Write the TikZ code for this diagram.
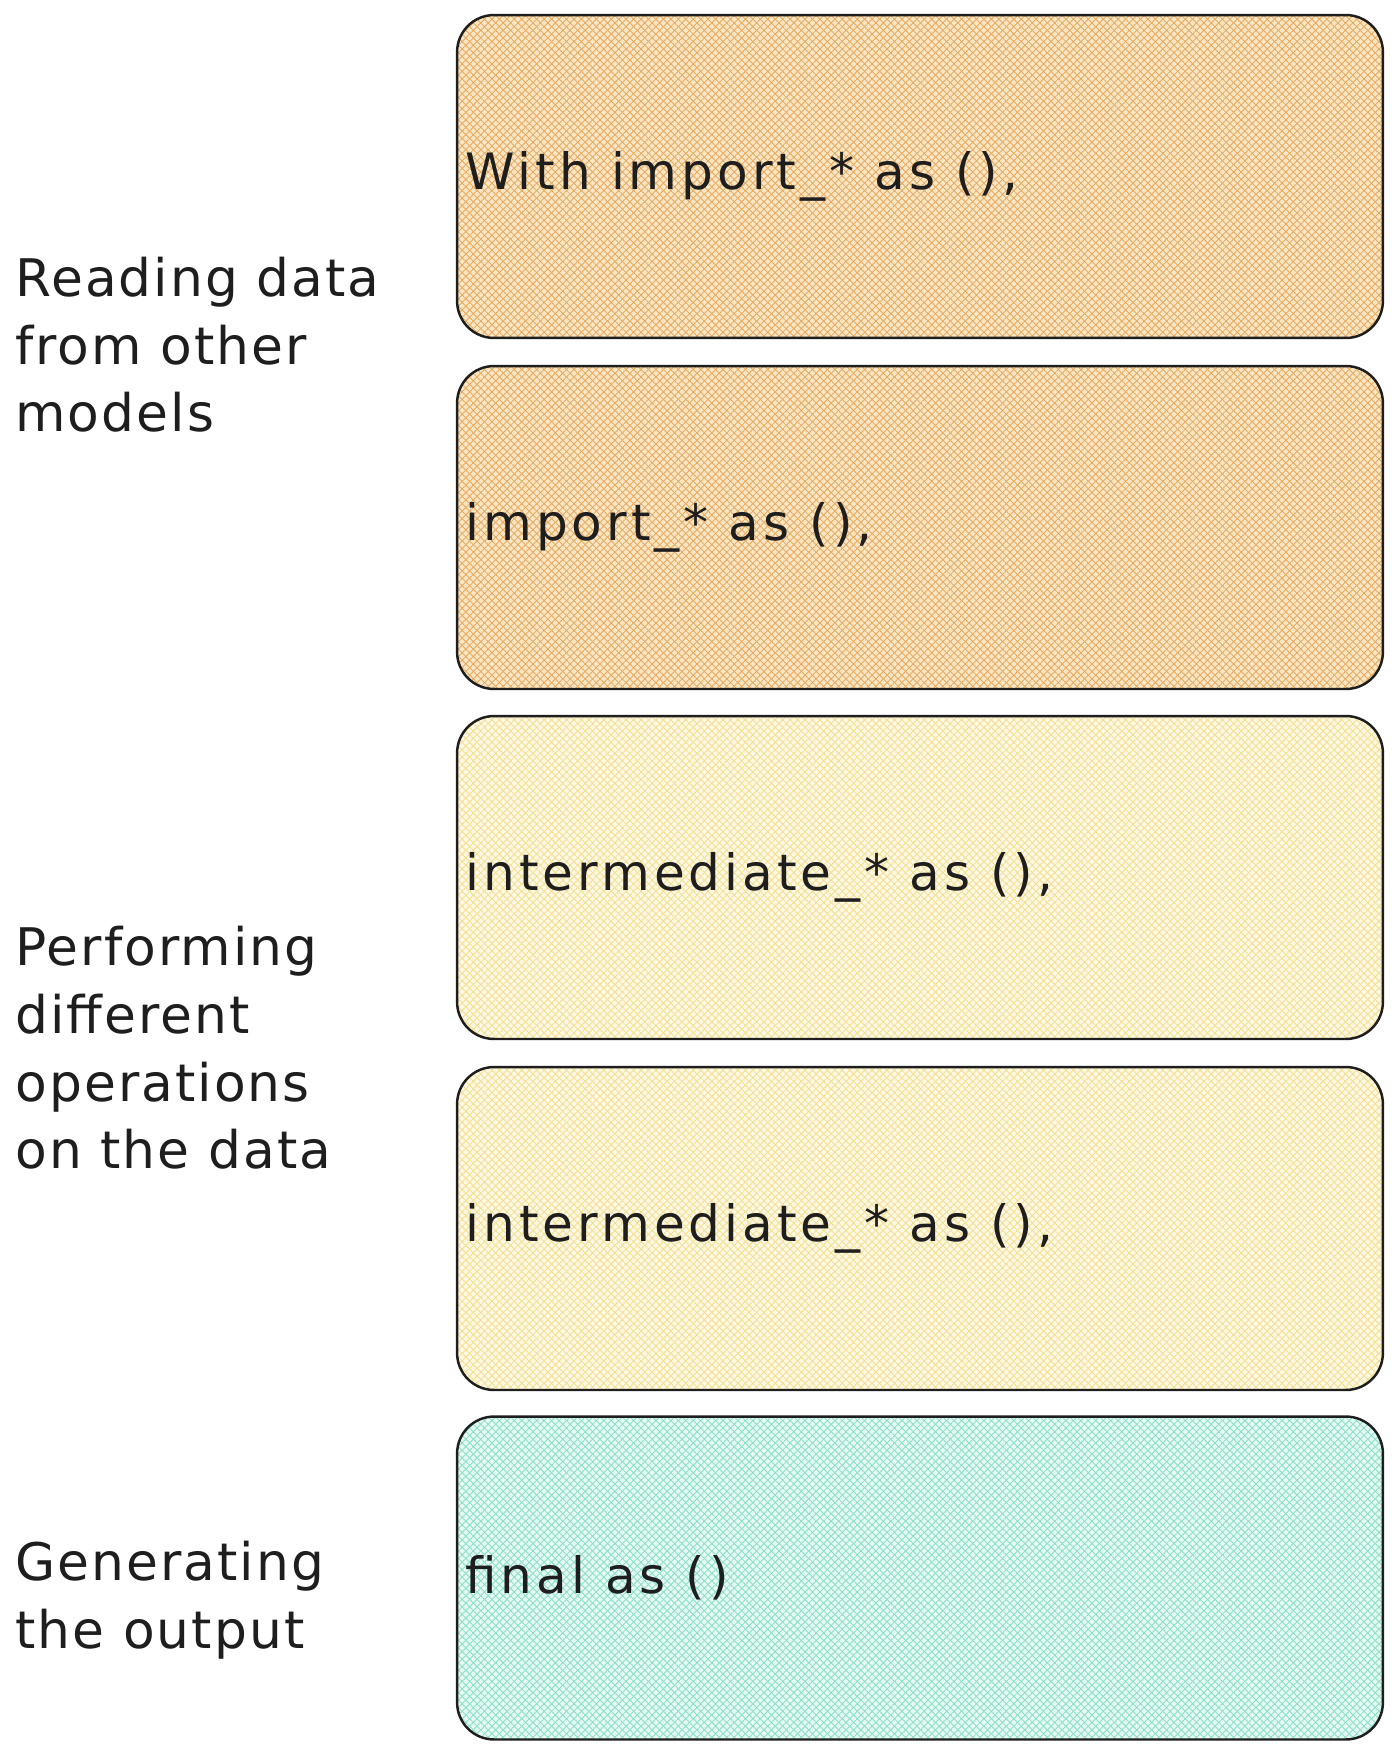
\documentclass[tikz,border=0pt]{standalone}
\usepackage{fontspec}
\setmainfont{DejaVu Sans}
\usetikzlibrary{positioning,patterns.meta}

\definecolor{inkc}{RGB}{30,30,30}
\definecolor{orangebg}{RGB}{250,230,195}
\definecolor{orangeln}{RGB}{230,170,98}
\definecolor{yellowbg}{RGB}{254,249,228}
\definecolor{yellowln}{RGB}{244,222,145}
\definecolor{tealbg}{RGB}{228,250,243}
\definecolor{tealln}{RGB}{140,222,200}

\tikzset{
  stagebox/.style={draw=inkc, line width=1.4pt, rounded corners=0.74cm,
    minimum width=18.52cm, minimum height=6.46cm, inner sep=0pt, outer sep=0pt},
  hatched/.style 2 args={
    preaction={fill=#1},
    preaction={pattern={Lines[angle=45,distance=3pt,line width=0.5pt]}, pattern color=#2},
    preaction={pattern={Lines[angle=-45,distance=3pt,line width=0.5pt]}, pattern color=#2}},
  codetext/.style={font=\fontsize{28.5}{32}\selectfont\addfontfeature{LetterSpace=8},
    text=inkc, inner sep=0pt, anchor=west},
  sidetext/.style={font=\fontsize{29.5}{38.5}\selectfont\addfontfeature{LetterSpace=4},
    text=inkc, align=left, inner sep=0pt, anchor=west}
}

\begin{document}
\begin{tikzpicture}[x=0.02cm, y=-0.02cm]
\useasboundingbox (0,0) rectangle (1400,1756);

% Boxes
\node[stagebox, hatched={orangebg}{orangeln}] (B1) at (920,176.5) {};
\node[stagebox, hatched={orangebg}{orangeln}] (B2) at (920,527.5) {};
\node[stagebox, hatched={yellowbg}{yellowln}] (B3) at (920,877.5) {};
\node[stagebox, hatched={yellowbg}{yellowln}] (B4) at (920,1228.5) {};
\node[stagebox, hatched={tealbg}{tealln}] (B5) at (920,1578) {};

% Code inside the boxes
\node[codetext, right=0.16cm of B1.west] (C1) {With import\_* as (),};
\node[codetext, right=0.16cm of B2.west] (C2) {import\_* as (),};
\node[codetext, right=0.16cm of B3.west] (C3) {intermediate\_* as (),};
\node[codetext, right=0.16cm of B4.west] (C4) {intermediate\_* as (),};
\node[codetext, right=0.16cm of B5.west] (C5) {final as ()};

% Labels
\node[sidetext] (L1) at (15,345) {Reading data\\from other\\models};
\node[sidetext] (L2) at (15,1048) {Performing\\different\\operations\\on the data};
\node[sidetext] (L3) at (15,1600) {Generating\\the output};

\end{tikzpicture}
\end{document}
